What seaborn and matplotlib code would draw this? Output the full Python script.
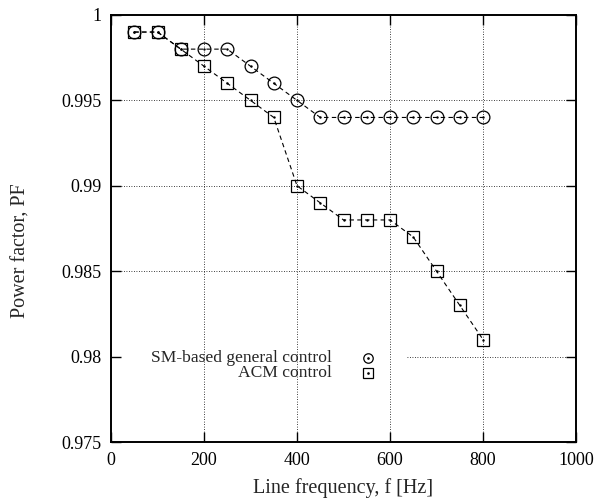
import pandas as pd
import matplotlib
matplotlib.use('Agg')
import matplotlib.pyplot as plt
import seaborn as sns

freq = [50, 100, 150, 200, 250, 300, 350, 400, 450, 500, 550, 600, 650, 700, 750, 800]
pf_sm = [0.999, 0.999, 0.998, 0.998, 0.998, 0.997, 0.996, 0.995, 0.994, 0.994,
         0.994, 0.994, 0.994, 0.994, 0.994, 0.994]
pf_acm = [0.999, 0.999, 0.998, 0.997, 0.996, 0.995, 0.994, 0.990, 0.989, 0.988,
          0.988, 0.988, 0.987, 0.985, 0.983, 0.981]
labels = ['SM-based general control', 'ACM control']
x_ticks = [0, 200, 400, 600, 800, 1000]
y_ticks = [0.975, 0.98, 0.985, 0.99, 0.995, 1.0]
y_ticklabels = ['0.975', '0.98', '0.985', '0.99', '0.995', '1']

sns.set_style('ticks')
plt.rcParams['font.family'] = ['Liberation Serif', 'DejaVu Serif']

fig = plt.figure(figsize=(5.95, 4.99), dpi=100)
ax = fig.add_axes([0.1866, 0.1142, 0.7815, 0.8558])

df = pd.DataFrame({'f': freq, 'sm': pf_sm, 'acm': pf_acm})

# grid (gnuplot style dotted)
grid_kw = dict(color='black', linestyle=(0, (1, 2)), linewidth=0.6, zorder=0)
for xv in x_ticks[1:-1]:
    ax.axvline(xv, **grid_kw)
for yv in y_ticks[2:-1]:
    ax.axhline(yv, **grid_kw)
# the 0.98 line is hidden behind the key on the left
ax.hlines(y_ticks[1], 637, 1000, **grid_kw)

line_kw = dict(color='black', linestyle=(0, (4, 3)), linewidth=0.8,
               markersize=9.2, markerfacecolor='none', markeredgecolor='black',
               markeredgewidth=0.9)
sns.lineplot(data=df, x='f', y='sm', marker='o', ax=ax, **line_kw)
sns.lineplot(data=df, x='f', y='acm', marker='s', ax=ax, **line_kw)
sns.scatterplot(data=df, x='f', y='sm', color='black', s=3, linewidth=0, ax=ax, zorder=5)
sns.scatterplot(data=df, x='f', y='acm', color='black', s=3, linewidth=0, ax=ax, zorder=5)

# key
key_y = [0.197, 0.162]
for lab, mk, ky in zip(labels, ['o', 's'], key_y):
    ax.text(0.475, ky, lab, transform=ax.transAxes, ha='right', va='center', fontsize=12.6)
    ax.plot([0.553], [ky], marker=mk, transform=ax.transAxes, markersize=6.8,
            markerfacecolor='none', markeredgecolor='black', markeredgewidth=0.9)
    ax.plot([0.553], [ky], marker='o', transform=ax.transAxes, markersize=0.9,
            color='black')

ax.set_xlim(0, 1000)
ax.set_ylim(0.975, 1.0)
ax.set_xticks(x_ticks)
ax.set_yticks(y_ticks)
ax.set_yticklabels(y_ticklabels)
ax.tick_params(direction='in', length=7, width=1, labelsize=13, top=True, right=True,
               pad=7, colors='black')
for s in ax.spines.values():
    s.set_linewidth(1.4)
    s.set_color('black')

ax.set_xlabel('Line frequency, f [Hz]', fontsize=14.5, labelpad=7)
ax.set_ylabel('Power factor, PF', fontsize=14.5)
ax.yaxis.set_label_coords(-0.174, 0.447)

fig.savefig('out.png', dpi=100, facecolor='white')
plt.close()
